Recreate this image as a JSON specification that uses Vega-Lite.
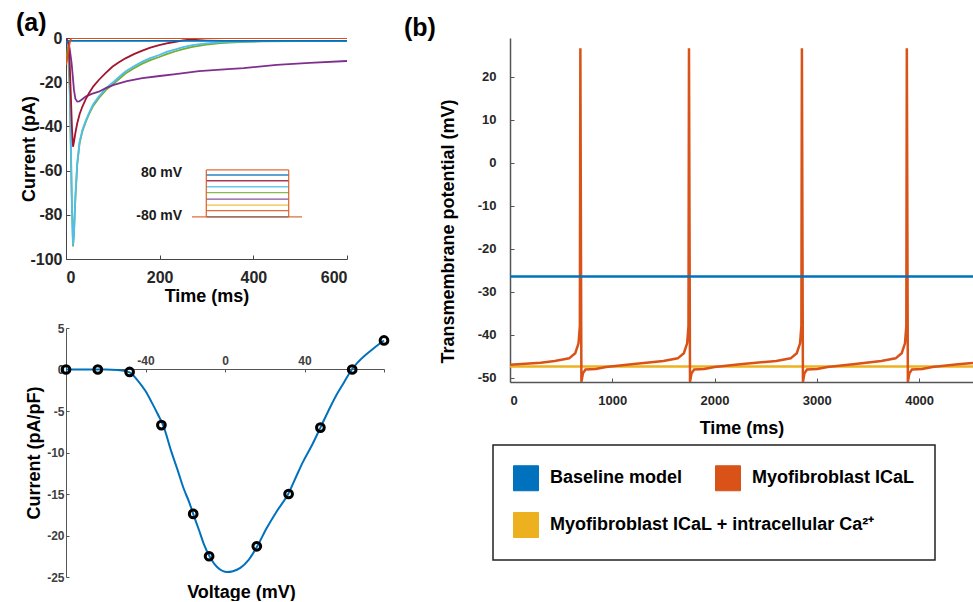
{
  "$schema": "https://vega.github.io/schema/vega-lite/v6.json",
  "background": "white",
  "padding": {"left": 15, "top": 11, "right": 0, "bottom": 0},
  "config": {
    "locale": {"number": {"decimal": ".", "thousands": "", "grouping": [3], "currency": ["$", ""], "minus": "-"}},
    "view": {"stroke": null},
    "font": "Liberation Sans",
    "axis": {"labelFont": "Liberation Sans", "titleFont": "Liberation Sans", "labelFontWeight": "bold", "titleFontWeight": "bold", "grid": false, "domainColor": "#444", "tickColor": "#444", "labelColor": "#262626", "titleColor": "#000000"},
    "legend": {"labelFont": "Liberation Sans", "labelFontSize": 18, "labelFontWeight": "bold", "labelColor": "#000000", "labelOffset": 11, "labelLimit": 500, "symbolType": "square", "symbolSize": 625, "symbolStrokeWidth": 1, "symbolStrokeColor": "#222", "columnPadding": 30},
    "title": {"font": "Liberation Sans", "fontWeight": "bold", "color": "#000000"}
  },
  "align": "none",
  "spacing": 10,
  "resolve": {"scale": {"color": "independent", "stroke": "independent"}},
  "hconcat": [
    {
      "spacing": 17,
      "resolve": {"scale": {"color": "independent", "stroke": "independent"}},
      "vconcat": [
        {
          "width": 281,
          "height": 221,
          "title": {"text": "(a)", "anchor": "start", "frame": "bounds", "fontSize": 25, "offset": -6, "dx": -5},
          "layer": [
            {
              "data": {"values": [
                {"v": "0", "t": 0, "I": -12}, {"v": "0", "t": 4, "I": -4}, {"v": "0", "t": 8, "I": -25}, {"v": "0", "t": 12, "I": -70}, {"v": "0", "t": 15, "I": -94.3}, {"v": "0", "t": 17, "I": -88.5}, {"v": "0", "t": 20, "I": -72.5}, {"v": "0", "t": 24, "I": -57.3}, {"v": "0", "t": 29, "I": -47.6}, {"v": "0", "t": 35, "I": -42.2}, {"v": "0", "t": 42, "I": -38.1}, {"v": "0", "t": 49, "I": -34.6}, {"v": "0", "t": 58, "I": -30.7}, {"v": "0", "t": 70, "I": -27.2}, {"v": "0", "t": 85, "I": -23.6}, {"v": "0", "t": 102, "I": -20.6}, {"v": "0", "t": 115, "I": -18.2}, {"v": "0", "t": 127, "I": -16.1}, {"v": "0", "t": 145, "I": -13.7}, {"v": "0", "t": 163, "I": -11.6}, {"v": "0", "t": 180, "I": -10.0}, {"v": "0", "t": 199, "I": -8.6}, {"v": "0", "t": 215, "I": -7.3}, {"v": "0", "t": 234, "I": -6.0}, {"v": "0", "t": 250, "I": -5.0}, {"v": "0", "t": 270, "I": -4.0}, {"v": "0", "t": 300, "I": -3.0}, {"v": "0", "t": 330, "I": -2.3}, {"v": "0", "t": 370, "I": -1.8}, {"v": "0", "t": 420, "I": -1.5}, {"v": "0", "t": 500, "I": -1.4}, {"v": "0", "t": 600, "I": -1.4},
                {"v": "20", "t": 0, "I": -0.5}, {"v": "20", "t": 5, "I": -3}, {"v": "20", "t": 8, "I": -20}, {"v": "20", "t": 11, "I": -55}, {"v": "20", "t": 13, "I": -80}, {"v": "20", "t": 15, "I": -93.7}, {"v": "20", "t": 17, "I": -88}, {"v": "20", "t": 20, "I": -72}, {"v": "20", "t": 24, "I": -56.7}, {"v": "20", "t": 29, "I": -47}, {"v": "20", "t": 35, "I": -41.6}, {"v": "20", "t": 42, "I": -37.5}, {"v": "20", "t": 49, "I": -34}, {"v": "20", "t": 58, "I": -30}, {"v": "20", "t": 70, "I": -26.5}, {"v": "20", "t": 85, "I": -22.8}, {"v": "20", "t": 102, "I": -19.8}, {"v": "20", "t": 115, "I": -17.3}, {"v": "20", "t": 127, "I": -15.2}, {"v": "20", "t": 145, "I": -12.8}, {"v": "20", "t": 163, "I": -10.7}, {"v": "20", "t": 180, "I": -9.1}, {"v": "20", "t": 199, "I": -7.7}, {"v": "20", "t": 215, "I": -6.3}, {"v": "20", "t": 234, "I": -5.1}, {"v": "20", "t": 250, "I": -4.1}, {"v": "20", "t": 270, "I": -3.2}, {"v": "20", "t": 300, "I": -2.4}, {"v": "20", "t": 330, "I": -1.9}, {"v": "20", "t": 370, "I": -1.6}, {"v": "20", "t": 420, "I": -1.45}, {"v": "20", "t": 500, "I": -1.4}, {"v": "20", "t": 600, "I": -1.4},
                {"v": "-20", "t": 0, "I": -0.3}, {"v": "-20", "t": 5, "I": -1.5}, {"v": "-20", "t": 8, "I": -5}, {"v": "-20", "t": 12, "I": -11.5}, {"v": "-20", "t": 17, "I": -23.5}, {"v": "-20", "t": 20, "I": -27.5}, {"v": "-20", "t": 24, "I": -28.8}, {"v": "-20", "t": 28, "I": -28.7}, {"v": "-20", "t": 34, "I": -27.8}, {"v": "-20", "t": 42, "I": -26.5}, {"v": "-20", "t": 55, "I": -25.3}, {"v": "-20", "t": 70, "I": -24.3}, {"v": "-20", "t": 85, "I": -22.7}, {"v": "-20", "t": 102, "I": -21.2}, {"v": "-20", "t": 130, "I": -19.5}, {"v": "-20", "t": 163, "I": -18.2}, {"v": "-20", "t": 200, "I": -17.2}, {"v": "-20", "t": 234, "I": -16.3}, {"v": "-20", "t": 284, "I": -15}, {"v": "-20", "t": 330, "I": -14.3}, {"v": "-20", "t": 379, "I": -13.6}, {"v": "-20", "t": 450, "I": -12.2}, {"v": "-20", "t": 520, "I": -11.3}, {"v": "-20", "t": 600, "I": -10.4},
                {"v": "40", "t": 0, "I": -0.5}, {"v": "40", "t": 5, "I": -2}, {"v": "40", "t": 8, "I": -12}, {"v": "40", "t": 11, "I": -30}, {"v": "40", "t": 13, "I": -42}, {"v": "40", "t": 15, "I": -49.2}, {"v": "40", "t": 17, "I": -47}, {"v": "40", "t": 20, "I": -43}, {"v": "40", "t": 24, "I": -38.6}, {"v": "40", "t": 29, "I": -34.5}, {"v": "40", "t": 35, "I": -31}, {"v": "40", "t": 42, "I": -27.8}, {"v": "40", "t": 49, "I": -25}, {"v": "40", "t": 58, "I": -22}, {"v": "40", "t": 70, "I": -19}, {"v": "40", "t": 85, "I": -15.8}, {"v": "40", "t": 99, "I": -13}, {"v": "40", "t": 113, "I": -11}, {"v": "40", "t": 127, "I": -9.2}, {"v": "40", "t": 145, "I": -7.3}, {"v": "40", "t": 163, "I": -5.7}, {"v": "40", "t": 180, "I": -4.4}, {"v": "40", "t": 199, "I": -3.2}, {"v": "40", "t": 215, "I": -2.4}, {"v": "40", "t": 234, "I": -1.7}, {"v": "40", "t": 250, "I": -1.1}, {"v": "40", "t": 269, "I": -0.6}, {"v": "40", "t": 300, "I": -0.2}, {"v": "40", "t": 340, "I": 0}, {"v": "40", "t": 600, "I": 0},
                {"v": "60", "t": 0, "I": -2.2}, {"v": "60", "t": 3, "I": -1.5}, {"v": "60", "t": 8, "I": -1.3}, {"v": "60", "t": 600, "I": -1.3},
                {"v": "80", "t": 0, "I": -12}, {"v": "80", "t": 4, "I": -7}, {"v": "80", "t": 8, "I": -2}, {"v": "80", "t": 11, "I": 0}, {"v": "80", "t": 600, "I": 0}
              ]},
              "mark": {"type": "line", "strokeWidth": 1.8, "clip": true},
              "encoding": {
                "x": {"field": "t", "type": "quantitative", "scale": {"domain": [0, 600], "nice": false}, "title": "Time (ms)",
                      "axis": {"values": [0, 200, 400, 600], "labelFontSize": 16, "tickSize": -4, "labelPadding": 14, "titleFontSize": 18, "titlePadding": 2}},
                "y": {"field": "I", "type": "quantitative", "scale": {"domain": [-100, 0], "nice": false}, "title": "Current (pA)",
                      "axis": {"values": [0, -20, -40, -60, -80, -100], "labelFontSize": 16, "tickSize": -4, "labelPadding": 8, "titleFontSize": 18, "titlePadding": -9}},
                "stroke": {"field": "v", "type": "nominal", "legend": null,
                           "scale": {"domain": ["-80", "-60", "-40", "-20", "0", "20", "40", "60", "80"], "range": ["#0072BD", "#D95319", "#EDB120", "#7E2F8E", "#77AC30", "#4DBEEE", "#A2142F", "#0072BD", "#D95319"]}}
              }
            },
            {
              "data": {"values": [
                {"v": "-80", "t": 299.6, "t2": 475.5, "I": -80.9}, {"v": "-60", "t": 299.6, "t2": 475.5, "I": -78.1}, {"v": "-40", "t": 299.6, "t2": 475.5, "I": -75.6}, {"v": "-20", "t": 299.6, "t2": 475.5, "I": -72.9}, {"v": "0", "t": 299.6, "t2": 475.5, "I": -70.0}, {"v": "20", "t": 299.6, "t2": 475.5, "I": -67.3}, {"v": "40", "t": 299.6, "t2": 475.5, "I": -64.6}, {"v": "60", "t": 299.6, "t2": 475.5, "I": -62.0}, {"v": "80", "t": 299.6, "t2": 475.5, "I": -59.7}
              ]},
              "mark": {"type": "rule", "strokeWidth": 1.3, "opacity": 0.85},
              "encoding": {
                "x": {"field": "t", "type": "quantitative", "title": "Time (ms)"},
                "x2": {"field": "t2"},
                "y": {"field": "I", "type": "quantitative", "title": "Current (pA)"},
                "stroke": {"field": "v", "type": "nominal", "legend": null}
              }
            },
            {
              "data": {"values": [
                {"t": 269, "t2": 504, "I": -80.9, "I2": -80.9}, {"t": 299.6, "t2": 299.6, "I": -80.9, "I2": -59.7}, {"t": 475.5, "t2": 475.5, "I": -80.9, "I2": -59.7}
              ]},
              "mark": {"type": "rule", "strokeWidth": 1.3, "color": "#D95319", "opacity": 0.85},
              "encoding": {
                "x": {"field": "t", "type": "quantitative", "title": "Time (ms)"},
                "x2": {"field": "t2"},
                "y": {"field": "I", "type": "quantitative", "title": "Current (pA)"},
                "y2": {"field": "I2"}
              }
            },
            {
              "data": {"values": [
                {"t": 248, "I": -61, "label": "80 mV"}, {"t": 248, "I": -80.5, "label": "-80 mV"}
              ]},
              "mark": {"type": "text", "align": "right", "baseline": "middle", "fontSize": 14, "fontWeight": "bold", "font": "Liberation Sans", "color": "#1a1a1a"},
              "encoding": {
                "x": {"field": "t", "type": "quantitative", "title": "Time (ms)"},
                "y": {"field": "I", "type": "quantitative", "title": "Current (pA)"},
                "text": {"field": "label"}
              }
            }
          ]
        },
        {
          "width": 318,
          "height": 249,
          "resolve": {"axis": {"x": "independent"}},
          "layer": [
            {
              "data": {"values": [
                {"V": -80, "I": 0}, {"V": -70, "I": 0}, {"V": -60, "I": 0}, {"V": -54, "I": -0.05}, {"V": -48, "I": -0.35}, {"V": -44, "I": -1.3}, {"V": -40, "I": -2.6}, {"V": -37, "I": -3.9}, {"V": -34, "I": -5.3}, {"V": -31, "I": -6.8}, {"V": -27, "I": -9.9}, {"V": -24, "I": -12}, {"V": -20.7, "I": -14.4}, {"V": -18, "I": -16}, {"V": -15.7, "I": -17.6}, {"V": -13, "I": -19.4}, {"V": -10.7, "I": -21}, {"V": -7.3, "I": -22.7}, {"V": -4, "I": -23.8}, {"V": -1, "I": -24.3}, {"V": 1, "I": -24.4}, {"V": 4, "I": -24.3}, {"V": 7.7, "I": -23.9}, {"V": 12, "I": -22.9}, {"V": 16, "I": -21.4}, {"V": 21, "I": -19.1}, {"V": 26, "I": -17.1}, {"V": 31.8, "I": -15}, {"V": 36, "I": -12.8}, {"V": 39.3, "I": -11.1}, {"V": 44, "I": -9}, {"V": 48, "I": -7}, {"V": 52, "I": -5}, {"V": 56, "I": -3.1}, {"V": 60, "I": -1.5}, {"V": 63.8, "I": 0}, {"V": 67, "I": 0.9}, {"V": 71, "I": 1.8}, {"V": 75, "I": 2.6}, {"V": 80, "I": 3.5}
              ]},
              "mark": {"type": "line", "color": "#0072BD", "strokeWidth": 2, "interpolate": "monotone"},
              "encoding": {
                "x": {"field": "V", "type": "quantitative", "scale": {"domain": [-80, 80], "nice": false},
                      "axis": {"orient": "top", "offset": -41, "title": null, "values": [-80, -40, 0, 40, 80], "labelExpr": "abs(datum.value) == 80 ? '' : datum.label", "labelFontSize": 12, "labelColor": "#404040", "tickSize": -3, "labelPadding": 5, "domainColor": "#555", "tickColor": "#555"}},
                "y": {"field": "I", "type": "quantitative", "scale": {"domain": [-25, 5], "nice": false}, "title": "Current (pA/pF)",
                      "axis": {"values": [5, 0, -5, -10, -15, -20, -25], "labelFontSize": 12, "labelColor": "#404040", "tickSize": -3, "labelPadding": 5, "titleFontSize": 18, "titlePadding": 3, "domainColor": "#555", "tickColor": "#555"}}
              }
            },
            {
              "data": {"values": [
                {"V": -80, "I": 0}, {"V": -64, "I": 0}, {"V": -48, "I": -0.3}, {"V": -32, "I": -6.7}, {"V": -16, "I": -17.4}, {"V": -8, "I": -22.5}, {"V": 16, "I": -21.3}, {"V": 32, "I": -15}, {"V": 48, "I": -7}, {"V": 64, "I": 0}, {"V": 80, "I": 3.5}
              ]},
              "mark": {"type": "point", "filled": false, "color": "#000000", "strokeWidth": 3, "size": 60, "opacity": 1},
              "encoding": {
                "x": {"field": "V", "type": "quantitative", "title": "Voltage (mV)",
                      "axis": {"orient": "bottom", "labels": false, "ticks": false, "domain": false, "titleFontSize": 18, "titlePadding": 6, "titleX": 175}},
                "y": {"field": "I", "type": "quantitative", "title": "Current (pA/pF)"}
              }
            }
          ]
        }
      ]
    },
    {
      "width": 463,
      "height": 344,
      "title": {"text": "(b)", "anchor": "start", "frame": "group", "dx": -106, "fontSize": 25, "offset": -3},
      "data": {"values": [
        {"s": "Myofibroblast ICaL + intracellular Ca²⁺", "t": 0, "V": -47.4}, {"s": "Myofibroblast ICaL + intracellular Ca²⁺", "t": 4527, "V": -47.4},
        {"s": "Myofibroblast ICaL", "t": 0, "V": -47.0}, {"s": "Myofibroblast ICaL", "t": 300, "V": -46.5}, {"s": "Myofibroblast ICaL", "t": 438, "V": -46.1}, {"s": "Myofibroblast ICaL", "t": 578, "V": -45.5}, {"s": "Myofibroblast ICaL", "t": 638, "V": -44.3}, {"s": "Myofibroblast ICaL", "t": 670, "V": -42}, {"s": "Myofibroblast ICaL", "t": 683, "V": -38}, {"s": "Myofibroblast ICaL", "t": 688, "V": 26.6}, {"s": "Myofibroblast ICaL", "t": 698, "V": -51}, {"s": "Myofibroblast ICaL", "t": 713, "V": -49}, {"s": "Myofibroblast ICaL", "t": 738, "V": -48.1}, {"s": "Myofibroblast ICaL", "t": 838, "V": -48.0}, {"s": "Myofibroblast ICaL", "t": 938, "V": -47.5}, {"s": "Myofibroblast ICaL", "t": 1188, "V": -46.9}, {"s": "Myofibroblast ICaL", "t": 1500, "V": -46.1}, {"s": "Myofibroblast ICaL", "t": 1640, "V": -45.5}, {"s": "Myofibroblast ICaL", "t": 1700, "V": -44.3}, {"s": "Myofibroblast ICaL", "t": 1732, "V": -42}, {"s": "Myofibroblast ICaL", "t": 1745, "V": -38}, {"s": "Myofibroblast ICaL", "t": 1750, "V": 26.6}, {"s": "Myofibroblast ICaL", "t": 1760, "V": -51}, {"s": "Myofibroblast ICaL", "t": 1775, "V": -49}, {"s": "Myofibroblast ICaL", "t": 1800, "V": -48.1}, {"s": "Myofibroblast ICaL", "t": 1900, "V": -48.0}, {"s": "Myofibroblast ICaL", "t": 2000, "V": -47.5}, {"s": "Myofibroblast ICaL", "t": 2250, "V": -46.9}, {"s": "Myofibroblast ICaL", "t": 2604, "V": -46.1}, {"s": "Myofibroblast ICaL", "t": 2744, "V": -45.5}, {"s": "Myofibroblast ICaL", "t": 2804, "V": -44.3}, {"s": "Myofibroblast ICaL", "t": 2836, "V": -42}, {"s": "Myofibroblast ICaL", "t": 2849, "V": -38}, {"s": "Myofibroblast ICaL", "t": 2854, "V": 26.6}, {"s": "Myofibroblast ICaL", "t": 2864, "V": -51}, {"s": "Myofibroblast ICaL", "t": 2879, "V": -49}, {"s": "Myofibroblast ICaL", "t": 2904, "V": -48.1}, {"s": "Myofibroblast ICaL", "t": 3004, "V": -48.0}, {"s": "Myofibroblast ICaL", "t": 3104, "V": -47.5}, {"s": "Myofibroblast ICaL", "t": 3354, "V": -46.9}, {"s": "Myofibroblast ICaL", "t": 3630, "V": -46.1}, {"s": "Myofibroblast ICaL", "t": 3770, "V": -45.5}, {"s": "Myofibroblast ICaL", "t": 3830, "V": -44.3}, {"s": "Myofibroblast ICaL", "t": 3862, "V": -42}, {"s": "Myofibroblast ICaL", "t": 3875, "V": -38}, {"s": "Myofibroblast ICaL", "t": 3880, "V": 26.6}, {"s": "Myofibroblast ICaL", "t": 3890, "V": -51}, {"s": "Myofibroblast ICaL", "t": 3905, "V": -49}, {"s": "Myofibroblast ICaL", "t": 3930, "V": -48.1}, {"s": "Myofibroblast ICaL", "t": 4030, "V": -48.0}, {"s": "Myofibroblast ICaL", "t": 4130, "V": -47.5}, {"s": "Myofibroblast ICaL", "t": 4380, "V": -46.9}, {"s": "Myofibroblast ICaL", "t": 4527, "V": -46.6},
        {"s": "Baseline model", "t": 0, "V": -26.5}, {"s": "Baseline model", "t": 4527, "V": -26.5}
      ]},
      "encoding": {
        "x": {"field": "t", "type": "quantitative", "scale": {"domain": [0, 4527], "nice": false}, "title": "Time (ms)",
              "axis": {"values": [0, 1000, 2000, 3000, 4000], "labelFontSize": 13, "tickSize": -4, "labelPadding": 16, "titleFontSize": 18, "titlePadding": 12, "domainWidth": 1.5, "domainColor": "#555", "tickColor": "#555"}},
        "y": {"field": "V", "type": "quantitative", "scale": {"domain": [-51, 28.96], "nice": false}, "title": "Transmembrane potential (mV)",
              "axis": {"values": [-50, -40, -30, -20, -10, 0, 10, 20], "labelFontSize": 13, "tickSize": -4, "labelPadding": 18, "titleFontSize": 18, "titlePadding": 20, "titleY": 193, "domainWidth": 1.5, "domainColor": "#555", "tickColor": "#555"}}
      },
      "layer": [
        {
          "transform": [{"filter": "datum.s == 'Myofibroblast ICaL + intracellular Ca²⁺'"}],
          "mark": {"type": "line", "strokeWidth": 2.5, "clip": true},
          "encoding": {
            "stroke": {"field": "s", "type": "nominal",
                       "scale": {"domain": ["Myofibroblast ICaL + intracellular Ca²⁺"], "range": ["#EDB120"]},
                       "legend": {"orient": "none", "legendX": 3, "legendY": 474, "title": null, "padding": 0,
                                  "encode": {"symbols": {"update": {"fill": {"value": "#EDB120"}, "fillOpacity": {"value": 1}, "stroke": {"value": "#222"}, "strokeWidth": {"value": 1}}}}}}
          }
        },
        {
          "transform": [{"filter": "datum.s != 'Myofibroblast ICaL + intracellular Ca²⁺'"}],
          "mark": {"type": "line", "strokeWidth": 2.5, "clip": true},
          "encoding": {
            "color": {"field": "s", "type": "nominal",
                      "scale": {"domain": ["Baseline model", "Myofibroblast ICaL"], "range": ["#0072BD", "#D95319"]},
                      "legend": {"orient": "none", "legendX": -17, "legendY": 407, "direction": "horizontal", "title": " ", "titleOrient": "bottom", "titleFontSize": 25, "titlePadding": 22,
                                 "padding": 20, "strokeColor": "#222",
                                 "encode": {
                                   "symbols": {"update": {"fill": {"signal": "datum.value == 'Baseline model' ? '#0072BD' : '#D95319'"}, "fillOpacity": {"value": 1}, "stroke": {"value": "#222"}, "strokeWidth": {"value": 1}}},
                                   "legend": {"update": {"strokeWidth": {"value": 1.5}}}
                                 }}}
          }
        }
      ]
    }
  ]
}
